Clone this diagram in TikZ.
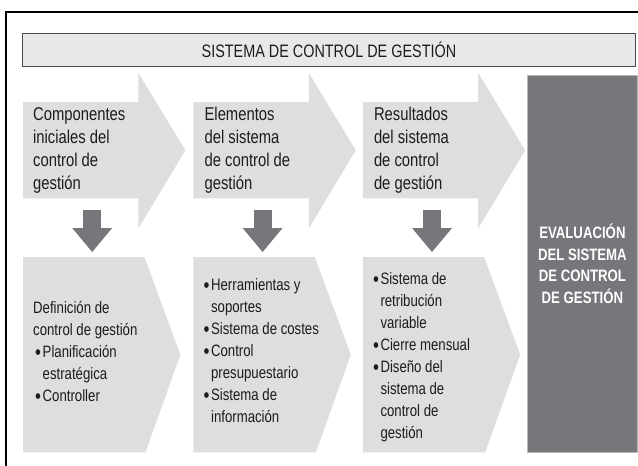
\documentclass[tikz,border=0pt]{standalone}
\usepackage{fontspec}
\setmainfont{Liberation Sans}[FakeStretch=0.8]
\usetikzlibrary{positioning, arrows.meta, backgrounds}
\definecolor{panelgray}{HTML}{DEDEE0}
\definecolor{titlegray}{HTML}{E8E8EA}
\definecolor{titleline}{HTML}{4A4A4C}
\definecolor{darkslate}{HTML}{76777B}
\definecolor{inkgray}{HTML}{1E1B1C}
\newcommand{\bitem}{\makebox[7.5pt][l]{\raisebox{-2pt}{\fontsize{21}{0}\selectfont\textbullet}}}
\newcommand{\bcont}{\hspace*{7.5pt}}

\begin{document}
\begin{tikzpicture}[x=1pt, y=-1pt]
\tikzstyle{panel} = [rectangle, inner sep=0pt, anchor=north west]
\tikzstyle{toptext} = [align=left, inner sep=0pt, text=inkgray, font=\fontsize{18.5}{23}\selectfont]
\tikzstyle{basetext} = [align=left, inner sep=0pt, text=inkgray, font=\fontsize{16.5}{22}\selectfont]
\tikzstyle{downarrow} = [draw=darkslate, line width=18pt, -{Triangle[width=40pt, length=24pt, line width=0pt]}]

\useasboundingbox (0,0) rectangle (638,466);
\draw[line width=1.6pt] (6,480) |- (650,12);

% title bar
\node (title) [panel, draw=titleline, line width=0.9pt, fill=titlegray, minimum width=613pt, minimum height=33pt, text=inkgray, font=\fontsize{18}{20}\selectfont] at (22,33) {SISTEMA DE CONTROL DE GESTIÓN};

% upper row
\node (comp) [panel, minimum width=115pt, minimum height=96pt] at (23,102) {};
\node (elem) [panel, minimum width=115pt, minimum height=96pt, right=55pt of comp] {};
\node (resu) [panel, minimum width=115pt, minimum height=96pt, right=54pt of elem] {};

% lower row
\node (defi) [panel, minimum width=121pt, minimum height=195pt] at (23,257) {};
\node (herr) [panel, minimum width=121pt, minimum height=195pt, right=49pt of defi] {};
\node (sist) [panel, minimum width=121pt, minimum height=195pt, right=48pt of herr] {};

\node (eval) [panel, fill=darkslate, draw=gray!55, line width=0.8pt, minimum width=110pt, minimum height=377pt, align=center, text=white, font=\bfseries\fontsize{16.5}{21.5}\selectfont] at (527,75) {EVALUACIÓN\\DEL SISTEMA\\DE CONTROL\\DE GESTIÓN};

\begin{scope}[on background layer]
\foreach \n in {comp, elem, resu}
  \fill[panelgray] (\n.north west) -- (\n.north east) -- ([yshift=29pt]\n.north east) -- ([xshift=47pt]\n.east) -- ([yshift=-30pt]\n.south east) -- (\n.south east) -- (\n.south west) -- cycle;
\foreach \n in {defi, herr, sist}
  \fill[panelgray] (\n.north west) -- (\n.north east) -- ([xshift=36pt]\n.east) -- ([xshift=1pt]\n.south east) -- (\n.south west) -- cycle;
\end{scope}

\node (compText) [toptext, below right=5pt and 10pt of comp.north west] {Componentes\\iniciales del\\control de\\gestión};
\node (elemText) [toptext, below right=5pt and 11pt of elem.north west] {Elementos\\del sistema\\de control de\\gestión};
\node (resuText) [toptext, below right=5pt and 11pt of resu.north west] {Resultados\\del sistema\\de control\\de gestión};

\node (defiText) [basetext, right=10pt of defi.west, yshift=2pt] {Definición de\\control de gestión\\\hspace*{2pt}\bitem Planificación\\\hspace*{2pt}\bcont estratégica\\\hspace*{2pt}\bitem Controller};
\node (herrText) [basetext, right=10pt of herr.west, yshift=4pt] {\bitem Herramientas y\\\bcont soportes\\\bitem Sistema de costes\\\bitem Control\\\bcont presupuestario\\\bitem Sistema de\\\bcont información};
\node (sistText) [basetext, right=10pt of sist.west, yshift=-3pt] {\bitem Sistema de\\\bcont retribución\\\bcont variable\\\bitem Cierre mensual\\\bitem Diseño del\\\bcont sistema de\\\bcont control de\\\bcont gestión};

\draw[downarrow] ([xshift=11.5pt, yshift=-12pt]comp.south) -- ([xshift=8.5pt, yshift=5pt]defi.north);
\draw[downarrow] ([xshift=11.5pt, yshift=-12pt]elem.south) -- ([xshift=8.5pt, yshift=5pt]herr.north);
\draw[downarrow] ([xshift=11.5pt, yshift=-12pt]resu.south) -- ([xshift=8.5pt, yshift=5pt]sist.north);

\end{tikzpicture}
\end{document}
